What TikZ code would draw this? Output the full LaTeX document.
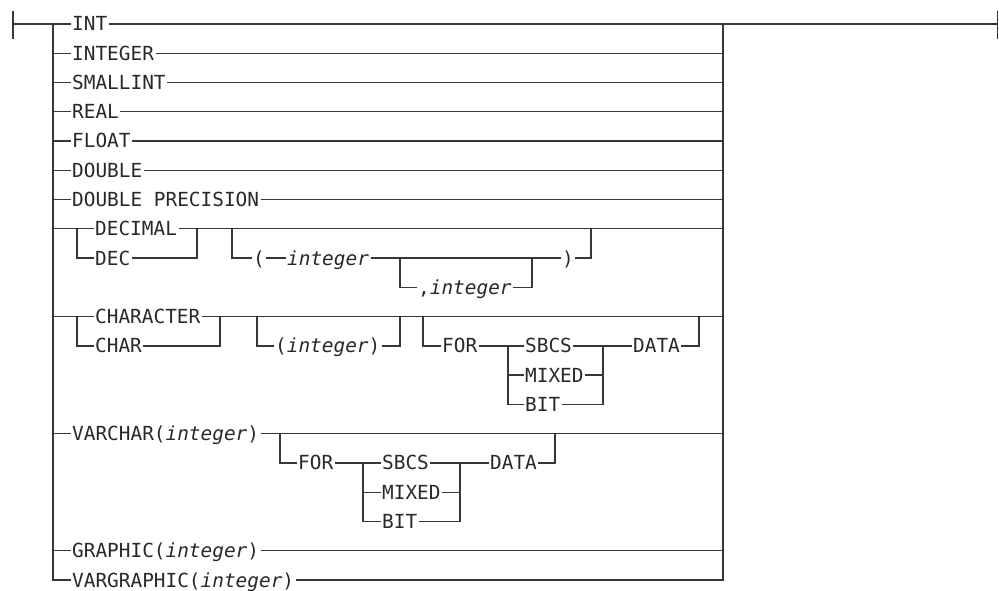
\documentclass[tikz,border=0pt]{standalone}
\usepackage{fontspec}
\setmainfont{DejaVu Sans Mono}
\definecolor{linecol}{RGB}{55,55,55}
\definecolor{txtcol}{RGB}{40,40,40}
\begin{document}
\begin{tikzpicture}[x={(1pt,0)},y={(0,-1pt)},
  kw/.style={anchor=west,inner xsep=2pt,inner ysep=0pt,text height=14pt,text depth=0pt,
    text=txtcol,font=\fontsize{19.4}{20}\selectfont},
  rr/.style={line width=1.3pt,draw=linecol,line join=miter,line cap=rect}]
\useasboundingbox (0,0) rectangle (999,591);
% start / end
\coordinate (S) at (13,24);
\coordinate (Stop) at (13,12);
\coordinate (Sbot) at (13,38);
\coordinate (E) at (997.5,24);
\coordinate (Etop) at (997.5,12);
\coordinate (Ebot) at (997.5,38);
\coordinate (Ltop) at (53,24);
\coordinate (Lbot) at (53,580);
\coordinate (Rtop) at (723,24);
\coordinate (Rbot) at (723,580);
\draw[rr] (Stop) -- (Sbot);
\draw[rr] (Etop) -- (Ebot);
\draw[rr] (S) -- (Ltop);
\draw[rr] (Rtop) -- (E);
\draw[rr] (Ltop) -- (Lbot);
\draw[rr] (Rtop) -- (Rbot);
% simple rows
\foreach \n/\t/\y in {INT/INT/24, INTEGER/INTEGER/53.3, SMALLINT/SMALLINT/82.5,
  REAL/REAL/111.8, FLOAT/FLOAT/141, DOUBLE/DOUBLE/170.3, DP/DOUBLE PRECISION/199.6,
  GR/{GRAPHIC(\textit{integer})}/550.7, VG/{VARGRAPHIC(\textit{integer})}/580}{
  \node[kw] (t\n) at (70,\y) {\t};
  \coordinate (L\n) at (53,\y);
  \coordinate (R\n) at (723,\y);
  \draw[rr] (L\n) -- (t\n.west);
  \draw[rr] (t\n.east) -- (R\n);
}
% DECIMAL / DEC row
\coordinate (LDEC) at (53,228.8);
\coordinate (a1) at (77,228.8);
\coordinate (a2) at (77,258);
\coordinate (a3) at (197,228.8);
\coordinate (a4) at (197,258);
\node[kw] (tDECIMAL) at (93,228.8) {DECIMAL};
\node[kw] (tDEC) at (93,258) {DEC};
\draw[rr] (LDEC) -- (a1) -- (tDECIMAL.west);
\draw[rr] (a1) -- (a2) -- (tDEC.west);
\draw[rr] (tDECIMAL.east) -- (a3) -- (a4) -- (tDEC.east);
\coordinate (b1) at (232,228.8);
\coordinate (b2) at (232,258);
\coordinate (b3) at (591,258);
\coordinate (b4) at (591,228.8);
\coordinate (RDEC) at (723,228.8);
\draw[rr] (a3) -- (RDEC);
\node[kw] (tLP) at (251,258) {(};
\node[kw] (tI1) at (285,258) {\textit{integer}};
\node[kw] (tRP) at (560,258) {)};
\coordinate (c1) at (400,258);
\coordinate (c2) at (400,287.3);
\coordinate (c3) at (532,258);
\coordinate (c4) at (532,287.3);
\node[kw] (tCI) at (416,287.3) {,\textit{integer}};
\draw[rr] (b1) -- (b2) -- (tLP.west);
\draw[rr] (tLP.east) -- (tI1.west);
\draw[rr] (tI1.east) -- (tRP.west);
\draw[rr] (tRP.east) -- (b3) -- (b4);
\draw[rr] (c1) -- (c2) -- (tCI.west);
\draw[rr] (tCI.east) -- (c4) -- (c3);
% CHARACTER row
\coordinate (LCH) at (53,316.6);
\coordinate (RCH) at (723,316.6);
\coordinate (d1) at (77,316.6);
\coordinate (d2) at (77,345.9);
\coordinate (d3) at (220,316.6);
\coordinate (d4) at (220,345.9);
\node[kw] (tCHARACTER) at (93,316.6) {CHARACTER};
\node[kw] (tCHAR) at (93,345.9) {CHAR};
\draw[rr] (LCH) -- (d1) -- (tCHARACTER.west);
\draw[rr] (d1) -- (d2) -- (tCHAR.west);
\draw[rr] (tCHARACTER.east) -- (d3) -- (d4) -- (tCHAR.east);
\draw[rr] (d3) -- (RCH);
\coordinate (e1) at (257,316.6);
\coordinate (e2) at (257,345.9);
\coordinate (e3) at (400,345.9);
\coordinate (e4) at (400,316.6);
\node[kw] (tPI) at (273,345.9) {(\textit{integer})};
\draw[rr] (e1) -- (e2) -- (tPI.west);
\draw[rr] (tPI.east) -- (e3) -- (e4);
\coordinate (f1) at (423,316.6);
\coordinate (f2) at (423,345.9);
\coordinate (f3) at (699,345.9);
\coordinate (f4) at (699,316.6);
\node[kw] (tFOR1) at (440,345.9) {FOR};
\coordinate (g1) at (508,345.9);
\coordinate (g2) at (508,375.1);
\coordinate (g3) at (508,404.4);
\coordinate (h1) at (603,345.9);
\coordinate (h2) at (603,375.1);
\coordinate (h3) at (603,404.4);
\node[kw] (tSB1) at (523,345.9) {SBCS};
\node[kw] (tMX1) at (523,375.1) {MIXED};
\node[kw] (tBT1) at (523,404.4) {BIT};
\node[kw] (tDA1) at (631,345.9) {DATA};
\draw[rr] (f1) -- (f2) -- (tFOR1.west);
\draw[rr] (tFOR1.east) -- (g1) -- (tSB1.west);
\draw[rr] (g1) -- (g3) -- (tBT1.west);
\draw[rr] (g2) -- (tMX1.west);
\draw[rr] (tSB1.east) -- (h1) -- (h3) -- (tBT1.east);
\draw[rr] (tMX1.east) -- (h2);
\draw[rr] (h1) -- (tDA1.west);
\draw[rr] (tDA1.east) -- (f3) -- (f4);
% VARCHAR row
\coordinate (LVC) at (53,433.6);
\coordinate (RVC) at (723,433.6);
\node[kw] (tVC) at (70,433.6) {VARCHAR(\textit{integer})};
\draw[rr] (LVC) -- (tVC.west);
\draw[rr] (tVC.east) -- (RVC);
\coordinate (i1) at (280,433.6);
\coordinate (i2) at (280,462.9);
\coordinate (i3) at (555,462.9);
\coordinate (i4) at (555,433.6);
\node[kw] (tFOR2) at (296,462.9) {FOR};
\coordinate (j1) at (363,462.9);
\coordinate (j2) at (363,492.2);
\coordinate (j3) at (363,521.4);
\coordinate (k1) at (460,462.9);
\coordinate (k2) at (460,492.2);
\coordinate (k3) at (460,521.4);
\node[kw] (tSB2) at (380,462.9) {SBCS};
\node[kw] (tMX2) at (380,492.2) {MIXED};
\node[kw] (tBT2) at (380,521.4) {BIT};
\node[kw] (tDA2) at (488,462.9) {DATA};
\draw[rr] (i1) -- (i2) -- (tFOR2.west);
\draw[rr] (tFOR2.east) -- (j1) -- (tSB2.west);
\draw[rr] (j1) -- (j3) -- (tBT2.west);
\draw[rr] (j2) -- (tMX2.west);
\draw[rr] (tSB2.east) -- (k1) -- (k3) -- (tBT2.east);
\draw[rr] (tMX2.east) -- (k2);
\draw[rr] (k1) -- (tDA2.west);
\draw[rr] (tDA2.east) -- (i3) -- (i4);
\end{tikzpicture}
\end{document}
